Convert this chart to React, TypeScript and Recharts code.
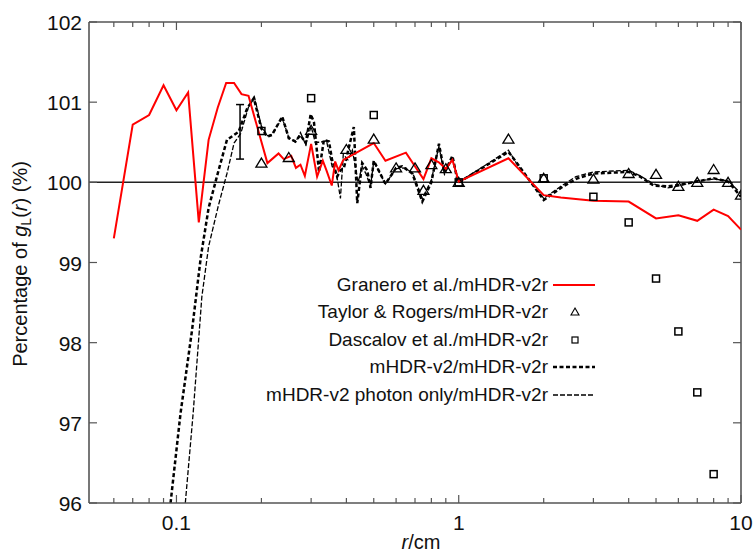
import {
  ComposedChart,
  Line,
  Scatter,
  XAxis,
  YAxis,
  ReferenceLine,
  ErrorBar,
  Legend,
  Label,
} from 'recharts';

const FONT = '"Liberation Sans", Arial, sans-serif';
const AXIS_COLOR = '#555';
const PLOT_LEFT = 89;
const PLOT_RIGHT = 741;
const PLOT_TOP = 22;
const PLOT_BOTTOM = 503;

// Granero et al./mHDR-v2r
const graneroR = [
  0.06, 0.07, 0.08, 0.09, 0.1, 0.11, 0.12, 0.13, 0.14, 0.15, 0.16, 0.17, 0.18, 0.21, 0.23, 0.24,
  0.255, 0.265, 0.275, 0.285, 0.3, 0.315, 0.33, 0.34, 0.355, 0.365, 0.375, 0.39, 0.5, 0.55, 0.65,
  0.75, 0.8, 0.85, 0.9, 0.95, 1.0, 1.5, 2, 2.3, 3, 4, 5, 6, 7, 8, 9, 10,
];
const graneroPct = [
  99.3, 100.72, 100.84, 101.21, 100.9, 101.12, 99.5, 100.53, 100.93, 101.24, 101.24, 101.1, 101.08,
  100.24, 100.36, 100.29, 100.33, 100.18, 100.22, 100.08, 100.48, 100.07, 100.27, 100.15, 99.96,
  100.26, 100.15, 100.28, 100.49, 100.27, 100.37, 100.04, 100.3, 100.25, 100.17, 100.28, 100.01,
  100.3, 99.84, 99.81, 99.77, 99.76, 99.55, 99.59, 99.52, 99.66, 99.58, 99.41,
];

// mHDR-v2/mHDR-v2r
const v2R = [
  0.0953, 0.1034, 0.1136, 0.122, 0.13, 0.141, 0.151, 0.166, 0.178, 0.188, 0.2, 0.21, 0.218, 0.237,
  0.25, 0.264, 0.275, 0.287, 0.299, 0.307, 0.32, 0.333, 0.347, 0.356, 0.371, 0.381, 0.392, 0.425,
  0.437, 0.455, 0.474, 0.487, 0.5, 0.55, 0.6, 0.63, 0.685, 0.743, 0.8, 0.851, 0.89, 0.95, 0.99, 1.0,
  1.5, 1.6, 2.0, 2.3, 2.63, 3.0, 4.0, 4.4, 4.9, 5.5, 6.1, 7, 8, 9, 10,
];
const v2Pct = [
  96.0, 97.12, 98.16, 99.07, 99.68, 100.15, 100.53, 100.63, 100.92, 101.05, 100.67, 100.57, 100.59,
  100.82, 100.55, 100.51, 100.59, 100.49, 100.85, 100.75, 100.13, 100.53, 100.51, 100.28, 100.07,
  100.15, 100.18, 100.69, 99.74, 100.24, 100.15, 99.93, 100.27, 99.98, 100.18, 100.2, 100.11, 99.76,
  100.0, 100.48, 100.12, 100.33, 100.02, 100.0, 100.38, 100.25, 99.78, 99.93, 100.05, 100.11,
  100.13, 100.07, 99.96, 99.95, 99.97, 100.01, 100.05, 100.01, 99.82,
];

// mHDR-v2 photon only/mHDR-v2r
const photonR = [
  0.1075, 0.1146, 0.123, 0.13, 0.141, 0.151, 0.16, 0.169, 0.18, 0.189, 0.2, 0.21, 0.218, 0.237, 0.25,
  0.264, 0.275, 0.287, 0.3, 0.31, 0.323, 0.34, 0.356, 0.37, 0.381, 0.39, 0.405, 0.42, 0.44, 0.455,
  0.47, 0.487, 0.5, 0.55, 0.6, 0.65, 0.69, 0.743, 0.8, 0.851, 0.89, 0.95, 1.0, 1.5, 1.6, 2.0, 2.3,
  2.6, 3.0, 4.0, 4.4, 4.9, 5.5, 6.1, 7, 8, 9, 10,
];
const photonPct = [
  96.0, 97.12, 98.57, 99.2, 99.72, 100.11, 100.49, 100.61, 100.94, 101.06, 100.7, 100.58, 100.6,
  100.8, 100.56, 100.5, 100.62, 100.47, 100.7, 100.5, 100.5, 100.52, 100.2, 100.08, 99.8, 100.35,
  100.28, 100.4, 100.0, 100.2, 100.1, 99.95, 100.26, 99.98, 100.17, 100.18, 100.1, 99.8, 100.03,
  100.45, 100.1, 100.3, 100.0, 100.4, 100.24, 99.8, 99.95, 100.07, 100.13, 100.15, 100.08, 99.98,
  99.93, 99.96, 100.02, 100.04, 100.02, 99.86,
];

// Taylor & Rogers/mHDR-v2r
const taylorR = [0.2, 0.25, 0.3, 0.4, 0.5, 0.6, 0.7, 0.75, 0.8, 0.9, 1, 1.5, 2, 3, 4, 5, 6, 7, 8, 9, 10];
const taylorPct = [
  100.24, 100.31, 100.65, 100.41, 100.54, 100.18, 100.18, 99.9, 100.22, 100.17, 100.0, 100.54,
  100.05, 100.04, 100.11, 100.1, 99.95, 100.0, 100.16, 100.0, 99.84,
];

// Dascalov et al./mHDR-v2r
const dascalovR = [0.2, 0.3, 0.5, 1, 2, 3, 4, 5, 6, 7, 8];
const dascalovPct = [100.64, 101.05, 100.84, 100.0, 100.05, 99.82, 99.5, 98.8, 98.14, 97.38, 96.36];

// uncertainty bar
const errR = [0.168];
const errPct = [100.63];
const errHalf = [0.34];

const xTicks = [
  0.06, 0.07, 0.08, 0.09, 0.1, 0.2, 0.3, 0.4, 0.5, 0.6, 0.7, 0.8, 0.9, 1, 2, 3, 4, 5, 6, 7, 8, 9, 10,
];
const xMajor = [0.1, 1, 10];
const yTicks = [96, 97, 98, 99, 100, 101, 102];

const legendNames = [
  'Granero et al./mHDR-v2r',
  'Taylor & Rogers/mHDR-v2r',
  'Dascalov et al./mHDR-v2r',
  'mHDR-v2/mHDR-v2r',
  'mHDR-v2 photon only/mHDR-v2r',
];

const zip = (xs: number[], ys: number[]) => xs.map((x, i) => ({ x, y: ys[i] }));

const granero = zip(graneroR, graneroPct);
const v2 = zip(v2R, v2Pct);
const photon = zip(photonR, photonPct);
const taylor = zip(taylorR, taylorPct);
const dascalov = zip(dascalovR, dascalovPct);
const errData = errR.map((x, i) => ({ x, y: errPct[i], err: errHalf[i] }));

function XTick({ x, payload }: any) {
  const major = xMajor.includes(payload.value);
  const len = major ? 8 : 5;
  return (
    <g>
      <line x1={x} x2={x} y1={PLOT_BOTTOM} y2={PLOT_BOTTOM - len} stroke={AXIS_COLOR} strokeWidth={1.2} />
      <line x1={x} x2={x} y1={PLOT_TOP} y2={PLOT_TOP + len} stroke={AXIS_COLOR} strokeWidth={1.2} />
      {major && (
        <text x={x} y={PLOT_BOTTOM + 27} textAnchor="middle" fontSize={21} fontFamily={FONT} fill="#111">
          {payload.value}
        </text>
      )}
    </g>
  );
}

function YTick({ y, payload }: any) {
  return (
    <g>
      <line x1={PLOT_LEFT} x2={PLOT_LEFT + 8} y1={y} y2={y} stroke={AXIS_COLOR} strokeWidth={1.2} />
      <line x1={PLOT_RIGHT - 8} x2={PLOT_RIGHT} y1={y} y2={y} stroke={AXIS_COLOR} strokeWidth={1.2} />
      <text x={PLOT_LEFT - 7} y={y + 8} textAnchor="end" fontSize={21} fontFamily={FONT} fill="#111">
        {payload.value}
      </text>
    </g>
  );
}

function Triangle({ cx, cy }: any) {
  return (
    <path
      d={`M${cx},${cy - 5} L${cx + 5.5},${cy + 4} L${cx - 5.5},${cy + 4} Z`}
      fill="none"
      stroke="#000"
      strokeWidth={1.3}
    />
  );
}

function Square({ cx, cy }: any) {
  return <rect x={cx - 3.5} y={cy - 3.5} width={7} height={7} fill="none" stroke="#000" strokeWidth={1.5} />;
}

function LegendIcon({ index }: { index: number }) {
  const w = 44;
  if (index === 0) return <line x1={0} x2={42} y1={6} y2={6} stroke="#ff0000" strokeWidth={2} />;
  if (index === 1)
    return <path d={`M${w / 2},2 L${w / 2 + 4},9 L${w / 2 - 4},9 Z`} fill="none" stroke="#000" strokeWidth={1.1} />;
  if (index === 2) return <rect x={w / 2 - 3} y={3} width={6} height={6} fill="none" stroke="#000" strokeWidth={1.2} />;
  if (index === 3)
    return <line x1={0} x2={42} y1={6} y2={6} stroke="#000" strokeWidth={2.5} strokeDasharray="4 2.5" />;
  return <line x1={0} x2={42} y1={6} y2={6} stroke="#000" strokeWidth={1.3} strokeDasharray="5 2" />;
}

function LegendBox() {
  return (
    <div style={{ fontFamily: FONT, fontSize: 19, color: '#111' }}>
      {legendNames.map((name, i) => (
        <div
          key={name}
          style={{ display: 'flex', justifyContent: 'flex-end', alignItems: 'center', height: 27.5 }}
        >
          <span style={{ whiteSpace: 'nowrap' }}>{name}</span>
          <svg width={44} height={12} style={{ marginLeft: 5 }}>
            <LegendIcon index={i} />
          </svg>
        </div>
      ))}
    </div>
  );
}

export default function App() {
  return (
    <div style={{ position: 'fixed', left: 0, top: 0, width: 754, height: 553, background: '#fff' }}>
      <ComposedChart width={754} height={553} margin={{ top: 22, right: 13, bottom: 0, left: 0 }}>
        <XAxis
          dataKey="x"
          type="number"
          scale="log"
          domain={[0.049, 10]}
          allowDataOverflow
          ticks={xTicks}
          interval={0}
          tick={<XTick />}
          tickLine={false}
          axisLine={{ stroke: AXIS_COLOR, strokeWidth: 1.6 }}
          height={50}
        >
          <Label
            content={() => (
              <text x={421} y={549} textAnchor="middle" fontSize={20} fontFamily={FONT} fill="#111">
                <tspan fontStyle="italic">r</tspan>/cm
              </text>
            )}
          />
        </XAxis>
        <YAxis
          dataKey="y"
          type="number"
          domain={[96, 102]}
          allowDataOverflow
          ticks={yTicks}
          interval={0}
          tick={<YTick />}
          tickLine={false}
          axisLine={{ stroke: AXIS_COLOR, strokeWidth: 1.6 }}
          width={89}
        >
          <Label
            content={() => (
              <text
                transform="translate(27, 264) rotate(-90)"
                textAnchor="middle"
                fontSize={20}
                fontFamily={FONT}
                fill="#111"
              >
                Percentage of <tspan fontStyle="italic">g</tspan>
                <tspan fontSize={14} dy={4}>L</tspan>
                <tspan dy={-4}>(</tspan>
                <tspan fontStyle="italic">r</tspan>) (%)
              </text>
            )}
          />
        </YAxis>
        <ReferenceLine y={102} stroke={AXIS_COLOR} strokeWidth={1.6} />
        <ReferenceLine x={10} stroke={AXIS_COLOR} strokeWidth={1.6} />
        <ReferenceLine y={100} stroke="#222" strokeWidth={1.5} />
        <Line
          data={photon}
          dataKey="y"
          stroke="#000"
          strokeWidth={1.3}
          strokeDasharray="5 2"
          dot={false}
          activeDot={false}
          isAnimationActive={false}
        />
        <Line
          data={v2}
          dataKey="y"
          stroke="#000"
          strokeWidth={2.5}
          strokeDasharray="4 2.5"
          dot={false}
          activeDot={false}
          isAnimationActive={false}
        />
        <Line
          data={granero}
          dataKey="y"
          stroke="#ff0000"
          strokeWidth={2}
          dot={false}
          activeDot={false}
          isAnimationActive={false}
        />
        <Scatter data={taylor} dataKey="y" shape={<Triangle />} isAnimationActive={false} />
        <Scatter data={dascalov} dataKey="y" shape={<Square />} isAnimationActive={false} />
        <Scatter data={errData} dataKey="y" shape={() => <g />} isAnimationActive={false}>
          <ErrorBar dataKey="err" direction="y" width={4} stroke="#000" strokeWidth={1.5} />
        </Scatter>
        <Legend
          content={<LegendBox />}
          layout="vertical"
          align="center"
          verticalAlign="middle"
          wrapperStyle={{ left: 250, top: 271, width: 347 }}
        />
      </ComposedChart>
    </div>
  );
}
